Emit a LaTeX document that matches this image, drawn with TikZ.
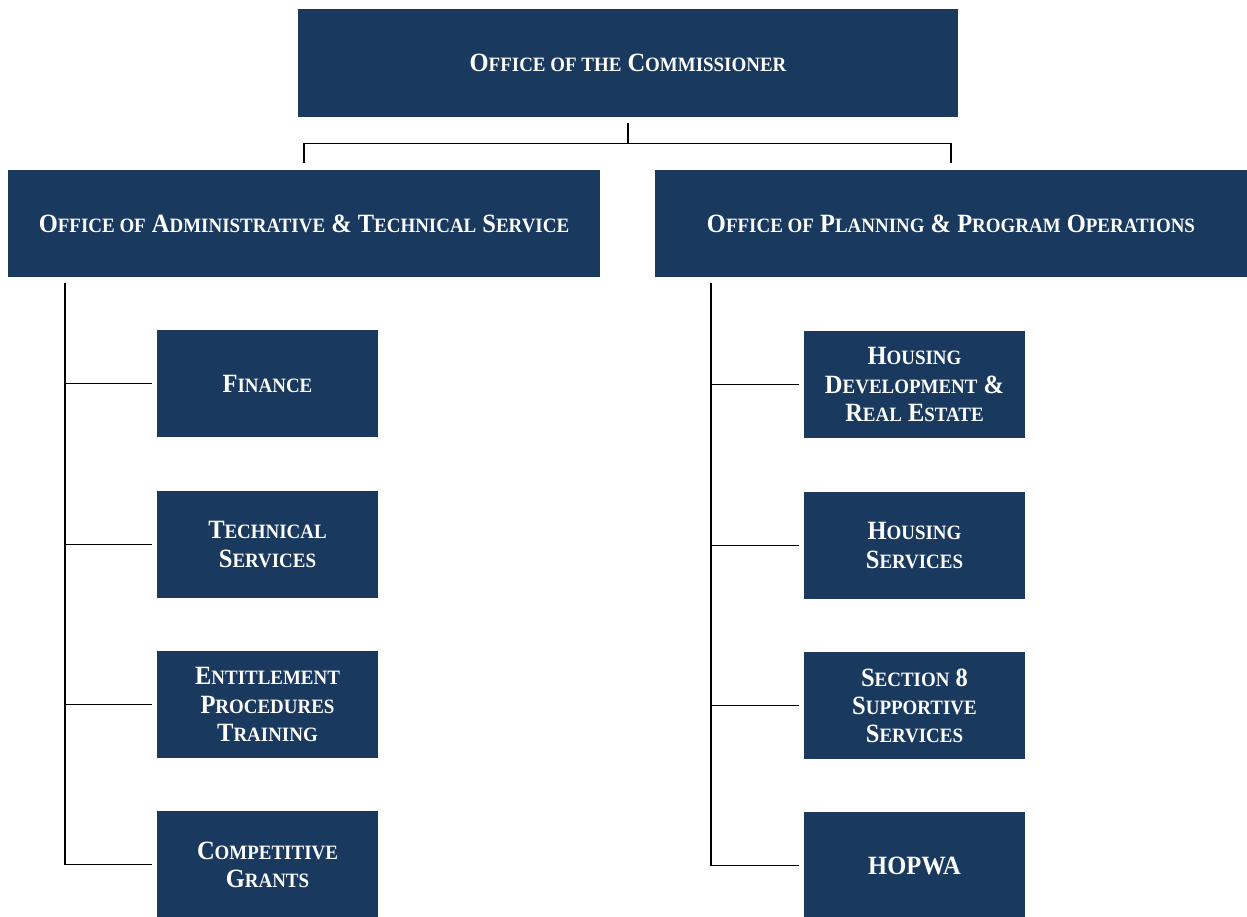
\documentclass[tikz,border=0pt]{standalone}
\usepackage{fontspec}
\setmainfont{Liberation Serif}[FakeStretch=0.93]
\usetikzlibrary{calc}
\definecolor{navy}{RGB}{26,57,94}
\newcommand\sm[1]{{\fontsize{11.6pt}{16pt}\selectfont #1}}
\tikzset{
  orgbox/.style={fill=navy, draw=none, text=white, font=\fontsize{15pt}{16pt}\selectfont\bfseries,
    align=center, inner sep=0pt},
  topbox/.style={orgbox, minimum width=13.2cm, minimum height=2.16cm},
  midbox/.style={orgbox, minimum width=11.86cm, minimum height=2.14cm},
  unitbox/.style={orgbox, minimum width=4.42cm, minimum height=2.14cm},
  conn/.style={draw=black, line width=0.9pt}
}
\begin{document}
\begin{tikzpicture}[x=0.02cm, y=-0.02cm]
\useasboundingbox (0,0) rectangle (1247,916);
\node[topbox] (top) at (628,63) {O\sm{FFICE OF THE} C\sm{OMMISSIONER}};
\node[midbox] (adm) at (304,223.5) {O\sm{FFICE OF} A\sm{DMINISTRATIVE} \& T\sm{ECHNICAL} S\sm{ERVICE}};
\node[midbox] (ops) at (951,223.5) {O\sm{FFICE OF} P\sm{LANNING} \& P\sm{ROGRAM} O\sm{PERATIONS}};

\node[unitbox] (fin) at (267.5,383.5) {F\sm{INANCE}};
\node[unitbox] (tech) at (267.5,544.5) {T\sm{ECHNICAL}\\S\sm{ERVICES}};
\node[unitbox] (ent) at (267.5,704.5) {E\sm{NTITLEMENT}\\P\sm{ROCEDURES}\\T\sm{RAINING}};
\node[unitbox] (comp) at (267.5,864.5) {C\sm{OMPETITIVE}\\G\sm{RANTS}};

\node[unitbox] (hdre) at (914.5,384.5) {H\sm{OUSING}\\D\sm{EVELOPMENT} \&\\R\sm{EAL} E\sm{STATE}};
\node[unitbox] (hs) at (914.5,545.5) {H\sm{OUSING}\\S\sm{ERVICES}};
\node[unitbox] (s8) at (914.5,705.5) {S\sm{ECTION} 8\\S\sm{UPPORTIVE}\\S\sm{ERVICES}};
\node[unitbox] (hop) at (914.5,865.5) {HOPWA};

\coordinate (admspine) at ($(adm.south west)+(58,0)$);
\coordinate (opsspine) at ($(ops.south west)+(57,0)$);

\draw[conn, shorten <=0.12cm] (top.south) -- ++(0,26) coordinate (bar);
\draw[conn, shorten >=0.14cm] (bar) -| (adm.north);
\draw[conn, shorten >=0.14cm] (bar) -| (ops.north);

\foreach \c in {fin,tech,ent,comp}
  \draw[conn, shorten <=0.12cm, shorten >=0.1cm] (admspine) |- (\c.west);
\foreach \c in {hdre,hs,s8,hop}
  \draw[conn, shorten <=0.12cm, shorten >=0.1cm] (opsspine) |- (\c.west);
\end{tikzpicture}
\end{document}
